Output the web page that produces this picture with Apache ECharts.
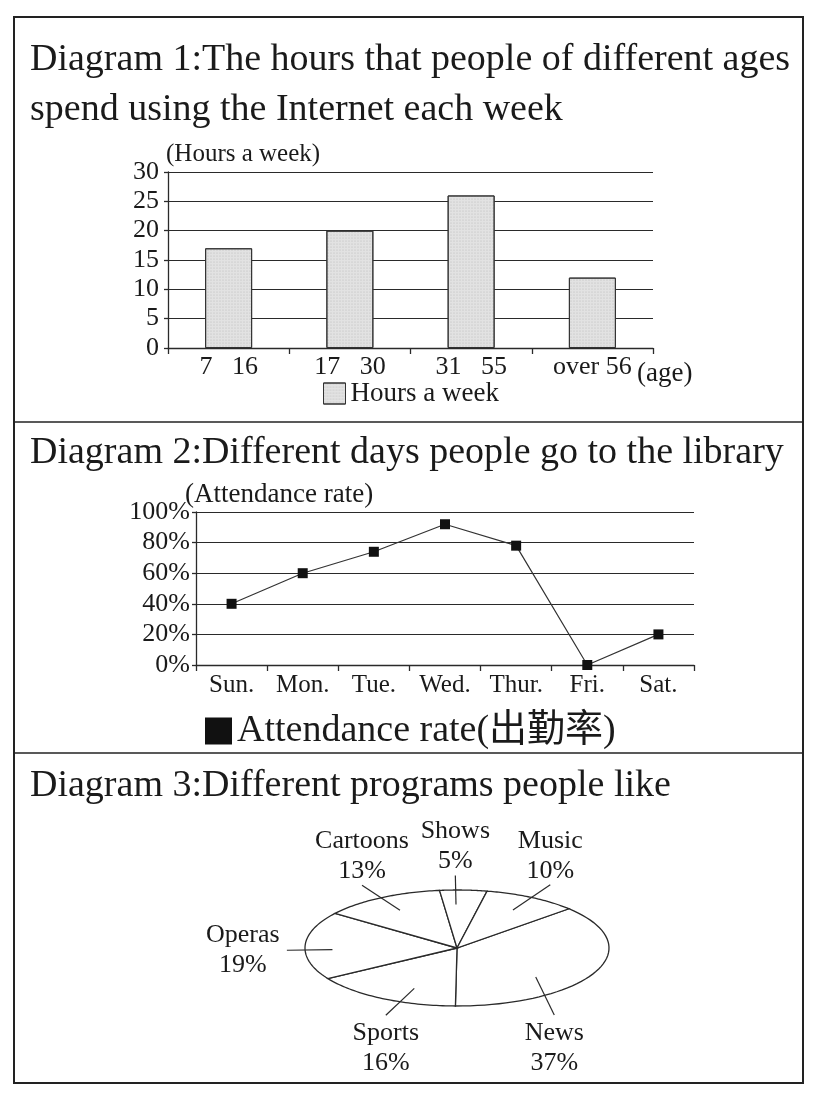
<!DOCTYPE html>
<html>
<head>
<meta charset="utf-8">
<script src="https://cdn.jsdelivr.net/npm/echarts@6/dist/echarts.min.js"></script>
<style>
html, body { margin: 0; background: #fff; }
#chart { width: 818px; height: 1096px; }
</style>
</head>
<body>
<div id="chart"></div>
<script>
// Diagram 1
var ageGroups = ['7   16', '17   30', '31   55', 'over 56'];
var hoursPerWeek = [17, 20, 26, 12];

// Diagram 2
var weekDays = ['Sun.', 'Mon.', 'Tue.', 'Wed.', 'Thur.', 'Fri.', 'Sat.'];
var attendance = [40, 60, 74, 92, 78, 0, 20];

// Diagram 3 (clockwise from the News slice)
var programs = ['News', 'Sports', 'Operas', 'Cartoons', 'Shows', 'Music'];
var programShare = [37, 16, 19, 13, 5, 10];

var SERIF = '"Liberation Serif", "DejaVu Serif", serif';
var INK = '#1a1a1a';
var LINE = '#2a2a2a';

// pie layout: leader lines follow the slice middle unless set here
var pieStartAngle = 42.6;
var leaderOverride = {
	News: { angle: -61, inAngle: -44, rIn: 0.72, rOut: 1.32 },
	Sports: { angle: -112 },
	Operas: { angle: 182, rIn: 0.82, rOut: 1.12 },
	Shows: { angle: 90.5 }
};

var programTotal = 0;
var programStart = [];
programShare.forEach(function (v) {
	programStart.push(programTotal);
	programTotal += v;
});

function renderProgramSlice(params, api) {
	var i = params.dataIndex;
	var share = api.value(0);
	var a1 = pieStartAngle - programStart[i] / programTotal * 360;
	var a2 = a1 - share / programTotal * 360;
	var pts = [api.coord([0, 0])];
	var steps = 48;
	for (var k = 0; k <= steps; k++) {
		var a = (a1 + (a2 - a1) * k / steps) * Math.PI / 180;
		pts.push(api.coord([Math.cos(a), Math.sin(a)]));
	}

	var name = programs[i];
	var ov = leaderOverride[name] || {};
	var mid = ov.angle !== undefined ? ov.angle : (a1 + a2) / 2;
	var rad = mid * Math.PI / 180;
	var radIn = (ov.inAngle !== undefined ? ov.inAngle : mid) * Math.PI / 180;
	var c = Math.cos(rad), s = Math.sin(rad);
	var rIn = ov.rIn || 0.75;
	var rOut = ov.rOut || 1.25;
	var pIn = api.coord([Math.cos(radIn) * rIn, Math.sin(radIn) * rIn]);
	var pOut = api.coord([c * rOut, s * rOut]);

	var label = { text: name + '\n' + share + '%', font: '26px ' + SERIF, fill: INK, lineHeight: 30, textAlign: 'center' };
	if (s > 0.5) {
		label.x = pOut[0]; label.y = pOut[1] + 1; label.textVerticalAlign = 'bottom';
	} else if (s < -0.5) {
		label.x = pOut[0]; label.y = pOut[1] + 3; label.textVerticalAlign = 'top';
	} else {
		label.x = pOut[0] + (c < 0 ? -44 : 44); label.y = pOut[1]; label.textVerticalAlign = 'middle';
	}

	return {
		type: 'group',
		children: [
			{ type: 'polygon', shape: { points: pts }, style: { fill: '#fff', stroke: LINE, lineWidth: 1.3 } },
			{ type: 'line', shape: { x1: pIn[0], y1: pIn[1], x2: pOut[0], y2: pOut[1] }, style: { stroke: LINE, lineWidth: 1.2 } },
			{ type: 'text', style: label }
		]
	};
}

function titleText(str, y) {
	return {
		type: 'text', left: 30, top: y,
		style: { text: str, font: '38px ' + SERIF, fill: INK }
	};
}

var axisLineStyle = { color: LINE, width: 1.3 };

var option = {
	animation: false,
	backgroundColor: '#fff',
	graphic: [
		{ type: 'rect', shape: { x: 14, y: 17, width: 789, height: 1066 }, style: { fill: 'none', stroke: '#222', lineWidth: 2 } },
		{ type: 'line', shape: { x1: 14, y1: 422, x2: 803, y2: 422 }, style: { stroke: '#222', lineWidth: 1.6 } },
		{ type: 'line', shape: { x1: 14, y1: 753, x2: 803, y2: 753 }, style: { stroke: '#222', lineWidth: 1.6 } },
		titleText('Diagram 1:The hours that people of different ages', 41),
		titleText('spend using the Internet each week', 91),
		titleText('Diagram 2:Different days people go to the library', 434),
		titleText('Diagram 3:Different programs people like', 767)
	],
	legend: [
		{
			data: ['Hours a week'], left: 323, top: 380, padding: 0, icon: 'rect',
			itemWidth: 22, itemHeight: 21,
			itemStyle: { color: '#e2e2e2', borderColor: '#333', borderWidth: 1 },
			textStyle: { fontFamily: SERIF, fontSize: 27, color: INK }
		},
		{
			data: ['Attendance rate(出勤率)'], left: 205, top: 712, padding: 0, icon: 'rect',
			itemWidth: 27, itemHeight: 27,
			itemStyle: { color: '#111' },
			textStyle: { fontFamily: SERIF + ', "Noto Sans CJK SC"', fontSize: 38, color: INK }
		}
	],
	grid: [
		{ left: 168, top: 172, width: 485, height: 176 },
		{ left: 196, top: 512, width: 498, height: 153 },
		{ left: 305, top: 890, width: 304, height: 116 }
	],
	xAxis: [
		{
			gridIndex: 0, type: 'category', data: ageGroups,
			axisLine: { lineStyle: axisLineStyle },
			axisTick: { show: true, length: 6, lineStyle: axisLineStyle },
			axisLabel: { fontFamily: SERIF, fontSize: 26, color: INK, margin: 6 },
			name: '(age)', nameLocation: 'end', nameGap: -16,
			nameTextStyle: { fontFamily: SERIF, fontSize: 27, color: INK, verticalAlign: 'top', padding: [12, 0, 0, 0] }
		},
		{
			gridIndex: 1, type: 'category', data: weekDays,
			axisLine: { lineStyle: axisLineStyle },
			axisTick: { show: true, length: 6, lineStyle: axisLineStyle },
			axisLabel: { fontFamily: SERIF, fontSize: 25, color: INK, margin: 8 }
		},
		{ gridIndex: 2, type: 'value', min: -1, max: 1, show: false }
	],
	yAxis: [
		{
			gridIndex: 0, type: 'value', min: 0, max: 30, interval: 5,
			axisLine: { show: true, lineStyle: axisLineStyle },
			axisTick: { show: true, length: 4, lineStyle: axisLineStyle },
			axisLabel: { fontFamily: SERIF, fontSize: 26, color: INK, margin: 9 },
			splitLine: { lineStyle: { color: LINE, width: 1.2 } },
			name: '(Hours a week)', nameLocation: 'end', nameGap: 5, nameMoveOverlap: false,
			nameTextStyle: { fontFamily: SERIF, fontSize: 25, color: INK, align: 'left', padding: [0, 0, 0, -2] }
		},
		{
			gridIndex: 1, type: 'value', min: 0, max: 100, interval: 20,
			axisLine: { show: true, lineStyle: axisLineStyle },
			axisTick: { show: true, length: 4, lineStyle: axisLineStyle },
			axisLabel: { fontFamily: SERIF, fontSize: 26, color: INK, margin: 6, formatter: '{value}%' },
			splitLine: { lineStyle: { color: LINE, width: 1.2 } },
			name: '(Attendance rate)', nameLocation: 'end', nameGap: 4, nameMoveOverlap: false,
			nameTextStyle: { fontFamily: SERIF, fontSize: 27, color: INK, align: 'left', padding: [0, 0, 0, -11] }
		},
		{ gridIndex: 2, type: 'value', min: -1, max: 1, show: false }
	],
	series: [
		{
			name: 'Hours a week', type: 'bar', xAxisIndex: 0, yAxisIndex: 0,
			data: hoursPerWeek, barWidth: 47,
			itemStyle: {
				color: '#e2e2e2', borderColor: '#333', borderWidth: 1,
				decal: { symbol: 'circle', symbolSize: 0.6, color: 'rgba(0,0,0,0.18)', dashArrayX: [2, 1], dashArrayY: [2, 1] }
			}
		},
		{
			name: 'Attendance rate(出勤率)', type: 'line', xAxisIndex: 1, yAxisIndex: 1,
			data: attendance, symbol: 'rect', symbolSize: 10,
			itemStyle: { color: '#111' },
			lineStyle: { color: '#333', width: 1.2 }
		},
		{
			name: 'programs', type: 'custom', xAxisIndex: 2, yAxisIndex: 2,
			clip: false, renderItem: renderProgramSlice,
			data: programShare.map(function (v, i) { return { name: programs[i], value: [v] }; })
		}
	]
};

var myChart = echarts.init(document.getElementById('chart'));
myChart.setOption(option);
</script>
</body>
</html>
